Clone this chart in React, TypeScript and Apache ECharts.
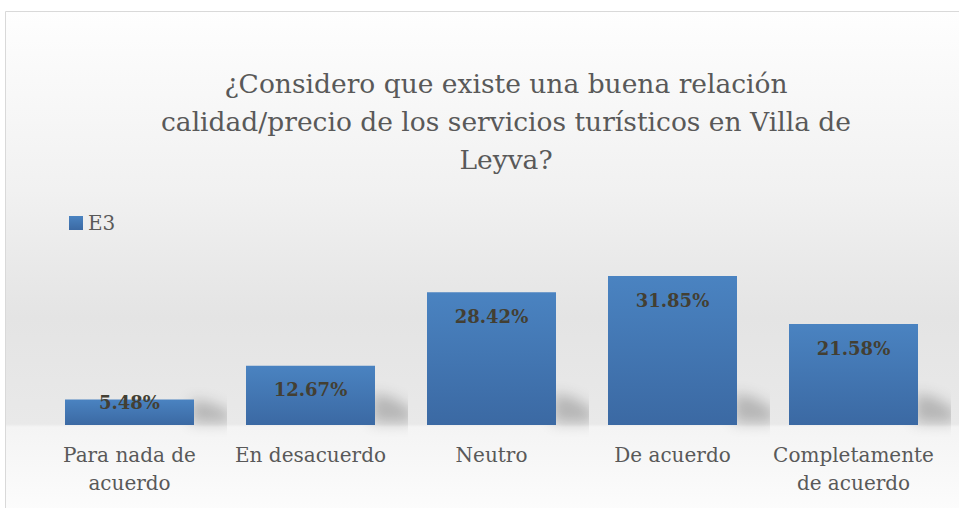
import React, { useEffect, useRef } from "react";
import * as echarts from "echarts";

const categories = [
  "Para nada de\nacuerdo",
  "En desacuerdo",
  "Neutro",
  "De acuerdo",
  "Completamente\nde acuerdo",
];
const values = [5.48, 12.67, 28.42, 31.85, 21.58];
const seriesName = "E3";
const titleText =
  "¿Considero que existe una buena relación\ncalidad/precio de los servicios turísticos en Villa de\nLeyva?";

const FONT = "DejaVu Serif";
const BAR_W = 129;

export default function App() {
  const ref = useRef<HTMLDivElement>(null);
  useEffect(() => {
    if (!ref.current) return;
    const chart = echarts.init(ref.current, undefined, { renderer: "svg" });
    const barGrad = new echarts.graphic.LinearGradient(0, 0, 0, 1, [
      { offset: 0, color: "#4a83c1" },
      { offset: 1, color: "#3b69a3" },
    ]);
    const baseFrac = (425 - 11.5) / 510;
    chart.setOption({
      animation: false,
      backgroundColor: "#ffffff",
      graphic: [
        {
          type: "rect",
          z: -10,
          shape: { x: 5.5, y: 11.5, width: 960, height: 510 },
          style: {
            fill: new echarts.graphic.LinearGradient(0, 0, 0, 1, [
              { offset: 0, color: "#fefefe" },
              { offset: 0.35, color: "#f1f1f1" },
              { offset: 0.6, color: "#e4e4e4" },
              { offset: baseFrac - 0.002, color: "#e9e9e9" },
              { offset: baseFrac + 0.004, color: "#f4f4f4" },
              { offset: 1, color: "#fdfdfd" },
            ]),
            stroke: "#d9d9d9",
            lineWidth: 1,
          },
          silent: true,
        },
      ],
      title: {
        text: titleText,
        left: 501,
        top: 59,
        textAlign: "center",
        textStyle: {
          fontFamily: FONT,
          fontSize: 26.5,
          fontWeight: "normal",
          color: "#595959",
          lineHeight: 38,
        },
      },
      legend: {
        left: 64,
        top: 208,
        icon: "rect",
        itemWidth: 14,
        itemHeight: 14,
        itemGap: 5,
        textStyle: { fontFamily: FONT, fontSize: 20, color: "#595959" },
        data: [seriesName],
      },
      grid: { left: 39, right: 15, top: 238, bottom: 83, containLabel: false },
      xAxis: {
        type: "category",
        data: categories,
        axisLine: { show: false },
        axisTick: { show: false },
        axisLabel: {
          fontFamily: FONT,
          fontSize: 20,
          color: "#595959",
          lineHeight: 28,
          margin: 16,
          interval: 0,
        },
      },
      yAxis: {
        type: "value",
        min: 0,
        max: 40,
        show: false,
        splitLine: { show: false },
      },
      series: [
        {
          name: "shadow",
          type: "custom",
          z: 1,
          silent: true,
          data: values.map((v, i) => [i, v]),
          encode: { x: 0, y: 1 },
          renderItem: (params: any, api: any) => {
            const base = api.coord([api.value(0), 0]);
            const top = api.coord([api.value(0), api.value(1)]);
            const h = Math.min(30, base[1] - top[1] - 2);
            const off = 44;
            const xr = base[0] + BAR_W / 2 - 3;
            const by = base[1] - 2;
            return {
              type: "polygon",
              shape: {
                points: [
                  [xr - off, by - h],
                  [xr - off + 20, by - h * 0.85],
                  [xr - off + 40, by - h * 0.45],
                  [xr - off + 40, by],
                  [xr - off, by],
                ],
              },
              style: {
                fill: "#3b69a3",
                shadowBlur: 14,
                shadowOffsetX: off,
                shadowOffsetY: 0,
                shadowColor: "rgba(0,0,0,0.22)",
              },
            };
          },
        },
        {
          name: seriesName,
          type: "bar",
          z: 2,
          barWidth: BAR_W,
          data: values.map((v, i) =>
            i === 0
              ? { value: v, label: { position: "insideTop", distance: -6 } }
              : v
          ),
          itemStyle: { color: barGrad },
          label: {
            show: true,
            position: "insideTop",
            distance: 15,
            formatter: (p: any) => p.value.toFixed(2) + "%",
            fontFamily: FONT,
            fontWeight: "bold",
            fontSize: 18,
            color: "#433f33",
          },
        },
      ],
    });
    return () => chart.dispose();
  }, []);
  return (
    <div
      ref={ref}
      style={{ position: "fixed", left: 0, top: 0, width: 959, height: 508 }}
    />
  );
}
